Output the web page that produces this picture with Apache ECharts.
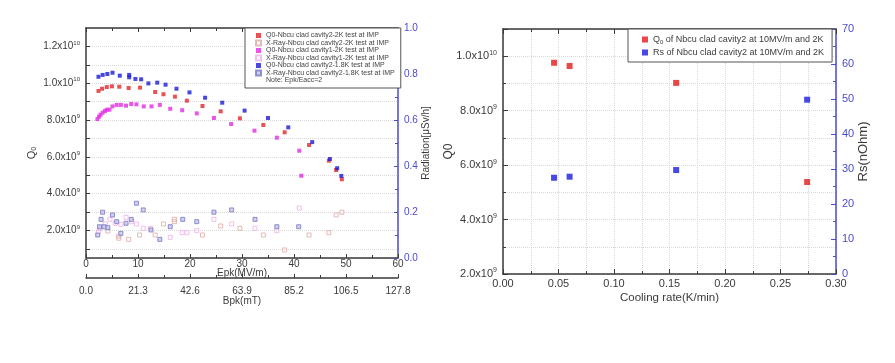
<!DOCTYPE html>
<html><head><meta charset="utf-8">
<script src="https://cdn.jsdelivr.net/npm/echarts@6/dist/echarts.min.js"></script>
<style>html,body{margin:0;padding:0;background:#fff}#c{width:895px;height:363px}</style>
</head><body><div id="c"></div>
<script>
// ---- Left chart data ----
const epkTicks = [0, 10, 20, 30, 40, 50, 60];
const bpkTicks = ['0.0', '21.3', '42.6', '63.9', '85.2', '106.5', '127.8'];
const redEpk = [2.4,3.1,4.0,5.0,6.4,8.2,10.4,13.3,14.9,17.1,19.4,22.4,25.9,29.6,34.1,38.2,42.9,46.7,48.1,49.2];
const redQ0  = [9.58e9,9.70e9,9.79e9,9.83e9,9.81e9,9.74e9,9.76e9,9.52e9,9.40e9,9.27e9,9.05e9,8.76e9,8.47e9,8.09e9,7.73e9,7.33e9,6.64e9,5.79e9,5.28e9,4.78e9];
const blueEpk = [2.4,3.2,4.1,5.1,6.5,8.3,8.3,9.5,10.6,12.0,13.7,15.3,17.4,19.9,22.9,26.2,30.5,35.0,38.9,43.5,46.9,48.3,49.1];
const blueQ0  = [10.35e9,10.45e9,10.50e9,10.57e9,10.41e9,10.45e9,10.32e9,10.23e9,10.21e9,9.99e9,10.03e9,9.92e9,9.70e9,9.50e9,9.21e9,8.94e9,8.51e9,8.11e9,7.60e9,6.80e9,5.88e9,5.38e9,4.96e9];
const magEpk = [2.2,2.5,2.8,3.2,3.65,4.0,4.5,5.1,5.9,6.7,7.7,8.7,9.7,11.1,12.6,14.2,16.2,18.5,21.3,24.6,27.9,32.4,36.7,41.0,41.4];
const magQ0  = [8.05e9,8.18e9,8.29e9,8.40e9,8.49e9,8.56e9,8.56e9,8.74e9,8.82e9,8.82e9,8.78e9,8.87e9,8.85e9,8.74e9,8.74e9,8.82e9,8.61e9,8.53e9,8.36e9,8.11e9,7.78e9,7.42e9,7.04e9,6.33e9,4.97e9];
const xrC2_2K_Epk = [4.2,6.3,6.3,8.2,10.3,13.3,14.9,17.0,17.0,22.4,25.9,29.6,34.1,38.2,42.9,46.7,48.1,49.2];
const xrC2_2K_Rad = [0.117,0.086,0.095,0.081,0.100,0.100,0.148,0.168,0.158,0.100,0.139,0.129,0.100,0.035,0.100,0.110,0.187,0.199];
const xrC1_2K_Epk = [2.4,2.7,3.7,4.6,5.6,6.7,7.7,8.8,9.7,11.0,12.4,16.2,18.5,19.4,21.3,24.6,28.0,32.5,36.7,41.0];
const xrC1_2K_Rad = [0.114,0.129,0.148,0.168,0.151,0.146,0.177,0.158,0.148,0.129,0.129,0.090,0.110,0.110,0.119,0.168,0.148,0.129,0.119,0.217];
const xrC2_18K_Epk = [2.25,2.6,2.9,3.2,3.5,4.2,5.1,5.9,6.7,7.7,8.7,9.7,11.0,12.5,14.2,16.2,18.6,21.3,24.6,28.0,32.5,36.7,40.9];
const xrC2_18K_Rad = [0.100,0.136,0.168,0.199,0.136,0.132,0.187,0.158,0.107,0.151,0.168,0.238,0.209,0.122,0.081,0.136,0.168,0.158,0.199,0.209,0.168,0.136,0.136];
// ---- Right chart data ----
const coolingRate = [0.046, 0.060, 0.156, 0.274];
const coolQ0 = [9.76e9, 9.64e9, 9.02e9, 5.38e9];
const coolRs = [27.5, 27.8, 29.7, 49.8];

const FONT = 'Liberation Sans';
const DARK = '#3a3a3a';
const BLUEAX = '#4b4bd0';
const GRIDC = '#d8d8d8';

function pairs(xs, ys){ return xs.map((x,i)=>[x, ys[i]]); }
function isMult(v, step){ const k = v/step; return Math.abs(k-Math.round(k))<1e-6; }
function sciFmt(v){
  if (v <= 0) return '';
  const e = Math.floor(Math.log10(v) + 1e-9);
  const m = v / Math.pow(10, e);
  return '{m|' + m.toFixed(1) + 'x10}{e|' + e + '}';
}
const sciRich = (fs) => ({ m:{fontSize:fs, color:DARK, fontFamily:FONT}, e:{fontSize:Math.round(fs*0.6), color:DARK, fontFamily:FONT, padding:[0,0,7,0]} });

const chart = echarts.init(document.getElementById('c'), null, {renderer:'canvas'});
const option = {
  animation:false,
  backgroundColor:'#fff',
  textStyle:{fontFamily:FONT},
  grid:[
    {left:86, top:28, width:312, height:230},
    {left:503, top:29, width:333, height:245}
  ],
  xAxis:[
    { // Epk
      gridIndex:0, type:'value', min:0, max:60, interval:10, position:'bottom',
      name:'Epk(MV/m)', nameLocation:'middle', nameGap:10, nameMoveOverlap:false,
      nameTextStyle:{fontSize:10, color:DARK, fontFamily:FONT},
      axisLine:{onZero:false, lineStyle:{color:DARK, width:1.5}},
      axisTick:{inside:true, length:4, lineStyle:{color:DARK}},
      minorTick:{show:true, splitNumber:2, length:3, lineStyle:{color:DARK}},
      axisLabel:{fontSize:10, color:DARK, margin:1, fontFamily:FONT},
      splitLine:{show:false}
    },
    { // Bpk
      gridIndex:0, type:'value', min:0, max:127.8, interval:21.3, position:'bottom', offset:20,
      name:'Bpk(mT)', nameLocation:'middle', nameGap:18, nameMoveOverlap:false,
      nameTextStyle:{fontSize:10, color:DARK, fontFamily:FONT},
      axisLine:{onZero:false, lineStyle:{color:DARK, width:1.5}},
      axisTick:{inside:true, length:4, lineStyle:{color:DARK}},
      minorTick:{show:true, splitNumber:2, length:3, lineStyle:{color:DARK}},
      axisLabel:{fontSize:10, color:DARK, margin:8, fontFamily:FONT,
        formatter:(v)=>{ const i = Math.round(v/21.3); return bpkTicks[i] !== undefined ? bpkTicks[i] : ''; }},
      splitLine:{show:false}
    },
    { // top mirror left
      gridIndex:0, type:'value', min:0, max:60, interval:10, position:'top',
      axisLine:{onZero:false, lineStyle:{color:DARK, width:1.5}},
      axisTick:{inside:true, length:4, lineStyle:{color:DARK}},
      minorTick:{show:true, splitNumber:2, length:3, lineStyle:{color:DARK}},
      axisLabel:{show:false}, splitLine:{show:false}
    },
    { // Cooling rate
      gridIndex:1, type:'value', min:0, max:0.3, interval:0.05, position:'bottom',
      name:'Cooling rate(K/min)', nameLocation:'middle', nameGap:18, nameMoveOverlap:false,
      nameTextStyle:{fontSize:11.5, color:DARK, fontFamily:FONT},
      axisLine:{onZero:false, lineStyle:{color:DARK, width:1.5}},
      axisTick:{inside:true, length:5, lineStyle:{color:DARK}},
      minorTick:{show:true, splitNumber:2, length:3, lineStyle:{color:DARK}},
      axisLabel:{fontSize:11, color:DARK, margin:4, fontFamily:FONT, formatter:(v)=>v.toFixed(2)},
      splitLine:{show:true, lineStyle:{color:GRIDC, type:'dotted'}},
      minorSplitLine:{show:true, lineStyle:{color:GRIDC, type:'dotted'}}
    },
    { // top mirror right
      gridIndex:1, type:'value', min:0, max:0.3, interval:0.05, position:'top',
      axisLine:{onZero:false, lineStyle:{color:DARK, width:1.5}},
      axisTick:{inside:true, length:5, lineStyle:{color:DARK}},
      minorTick:{show:true, splitNumber:2, length:3, lineStyle:{color:DARK}},
      axisLabel:{show:false}, splitLine:{show:false}
    }
  ],
  yAxis:[
    { // Q0 left
      gridIndex:0, type:'value', min:5e8, max:1.3e10, splitNumber:12, position:'left',
      name:'{q|Q}{s|0}', nameLocation:'middle', nameGap:48, nameRotate:90, nameMoveOverlap:false,
      nameTextStyle:{padding:[0,0,0,-20], rich:{q:{fontSize:11, color:DARK, fontFamily:FONT}, s:{fontSize:7, color:DARK, fontFamily:FONT, padding:[6,0,0,0]}}},
      axisLine:{onZero:false, lineStyle:{color:DARK, width:1.5}},
      axisTick:{inside:true, length:4, lineStyle:{color:DARK}},
      axisLabel:{fontSize:10, color:DARK, margin:6, fontFamily:FONT, rich:sciRich(10), showMinLabel:false, showMaxLabel:false,
        formatter:(v)=> isMult(v, 2e9) ? sciFmt(v) : ''},
      splitLine:{show:true, lineStyle:{color:GRIDC, type:'dotted'}}
    },
    { // Radiation right
      gridIndex:0, type:'value', min:0, max:1, interval:0.2, position:'right',
      name:'Radiation[\u03bcSv/h]', nameLocation:'middle', nameGap:23, nameRotate:90, nameMoveOverlap:false,
      nameTextStyle:{fontSize:10, color:DARK, fontFamily:FONT},
      axisLine:{onZero:false, lineStyle:{color:BLUEAX, width:1.5}},
      axisTick:{inside:true, length:4, lineStyle:{color:BLUEAX}},
      minorTick:{show:true, splitNumber:2, length:3, lineStyle:{color:BLUEAX}},
      axisLabel:{fontSize:10, color:BLUEAX, margin:6, fontFamily:FONT, formatter:(v)=>v.toFixed(1)},
      splitLine:{show:false}
    },
    { // Q0 right chart
      gridIndex:1, type:'value', min:2e9, max:1.1e10, interval:2e9, position:'left',
      name:'Q0', nameLocation:'middle', nameGap:48, nameRotate:90, nameMoveOverlap:false,
      nameTextStyle:{fontSize:12, color:DARK, fontFamily:FONT},
      axisLine:{onZero:false, lineStyle:{color:DARK, width:1.5}},
      axisTick:{inside:true, length:5, lineStyle:{color:DARK}},
      minorTick:{show:true, splitNumber:2, length:3, lineStyle:{color:DARK}},
      axisLabel:{fontSize:11, color:DARK, margin:6, fontFamily:FONT, rich:sciRich(11), showMaxLabel:false,
        formatter:(v)=> isMult(v, 2e9) ? sciFmt(v) : ''},
      splitLine:{show:true, lineStyle:{color:GRIDC, type:'dotted'}},
      minorSplitLine:{show:true, lineStyle:{color:GRIDC, type:'dotted'}}
    },
    { // Rs right
      gridIndex:1, type:'value', min:0, max:70, interval:10, position:'right',
      name:'Rs(nOhm)', nameLocation:'middle', nameGap:21, nameRotate:90, nameMoveOverlap:false,
      nameTextStyle:{fontSize:13, color:DARK, fontFamily:FONT},
      axisLine:{onZero:false, lineStyle:{color:BLUEAX, width:1.5}},
      axisTick:{inside:true, length:5, lineStyle:{color:BLUEAX}},
      minorTick:{show:true, splitNumber:2, length:3, lineStyle:{color:BLUEAX}},
      axisLabel:{fontSize:11, color:BLUEAX, margin:6, fontFamily:FONT},
      splitLine:{show:false}
    }
  ],
  legend:[
    {
      left:245, top:28, orient:'vertical', itemWidth:5, itemHeight:5, itemGap:0.5,
      padding:[4,6,4,10], borderColor:'#555', borderWidth:1, backgroundColor:'#fff',
      textStyle:{fontSize:7, color:'#444', fontFamily:FONT, padding:[0,0,0,0]},
      data:[
        {name:'Q0-Nbcu clad cavity2-2K test at IMP'},
        {name:'X-Ray-Nbcu clad cavity2-2K test at IMP'},
        {name:'Q0-Nbcu clad cavity1-2K test at IMP'},
        {name:'X-Ray-Nbcu clad cavity1-2K test at IMP'},
        {name:'Q0-Nbcu clad cavity2-1.8K test at IMP'},
        {name:'X-Ray-Nbcu clad cavity2-1.8K test at IMP'},
        {name:'Note: Epk/Eacc=2', itemStyle:{color:'rgba(0,0,0,0)', borderColor:'rgba(0,0,0,0)'}}
      ]
    },
    {
      left:628, top:29, orient:'vertical', itemWidth:6, itemHeight:6, itemGap:3,
      padding:[6,8,5,14], borderColor:'#555', borderWidth:1, backgroundColor:'#fff',
      textStyle:{fontSize:9, color:DARK, fontFamily:FONT,
        rich:{a:{fontSize:9, color:DARK, fontFamily:FONT}, s:{fontSize:6, color:DARK, fontFamily:FONT, padding:[5,0,0,0]}}},
      formatter:(n)=> n.startsWith('Q0') ? '{a|Q}{s|0}{a|' + n.slice(2) + '}' : '{a|' + n + '}',
      data:['Q0 of Nbcu clad cavity2 at 10MV/m and 2K','Rs of Nbcu clad cavity2 at 10MV/m and 2K']
    }
  ],
  series:[
    {name:'Q0-Nbcu clad cavity2-2K test at IMP', type:'scatter', xAxisIndex:0, yAxisIndex:0, symbol:'rect', symbolSize:4,
      itemStyle:{color:'#e3262b'}, data:pairs(redEpk, redQ0)},
    {name:'X-Ray-Nbcu clad cavity2-2K test at IMP', type:'scatter', xAxisIndex:0, yAxisIndex:1, symbol:'rect', symbolSize:4,
      itemStyle:{color:'rgba(255,255,255,0)', borderColor:'#dcaaa4', borderWidth:1}, data:pairs(xrC2_2K_Epk, xrC2_2K_Rad)},
    {name:'Q0-Nbcu clad cavity1-2K test at IMP', type:'scatter', xAxisIndex:0, yAxisIndex:0, symbol:'rect', symbolSize:4,
      itemStyle:{color:'#e42ae4'}, data:pairs(magEpk, magQ0)},
    {name:'X-Ray-Nbcu clad cavity1-2K test at IMP', type:'scatter', xAxisIndex:0, yAxisIndex:1, symbol:'rect', symbolSize:4,
      itemStyle:{color:'rgba(255,255,255,0)', borderColor:'#eeb0e6', borderWidth:1}, data:pairs(xrC1_2K_Epk, xrC1_2K_Rad)},
    {name:'Q0-Nbcu clad cavity2-1.8K test at IMP', type:'scatter', xAxisIndex:0, yAxisIndex:0, symbol:'rect', symbolSize:4,
      itemStyle:{color:'#1a1ad6'}, data:pairs(blueEpk, blueQ0)},
    {name:'X-Ray-Nbcu clad cavity2-1.8K test at IMP', type:'scatter', xAxisIndex:0, yAxisIndex:1, symbol:'rect', symbolSize:4,
      itemStyle:{color:'#c4c4ec', borderColor:'#7878c0', borderWidth:1}, data:pairs(xrC2_18K_Epk, xrC2_18K_Rad)},
    {name:'Note: Epk/Eacc=2', type:'scatter', xAxisIndex:0, yAxisIndex:0, data:[]},
    {name:'Q0 of Nbcu clad cavity2 at 10MV/m and 2K', type:'scatter', xAxisIndex:3, yAxisIndex:2, symbol:'rect', symbolSize:6,
      itemStyle:{color:'#e31a1a'}, data:pairs(coolingRate, coolQ0)},
    {name:'Rs of Nbcu clad cavity2 at 10MV/m and 2K', type:'scatter', xAxisIndex:3, yAxisIndex:3, symbol:'rect', symbolSize:6,
      itemStyle:{color:'#1a1ae0'}, data:pairs(coolingRate, coolRs)}
  ]
};
chart.setOption(option);
</script></body></html>
